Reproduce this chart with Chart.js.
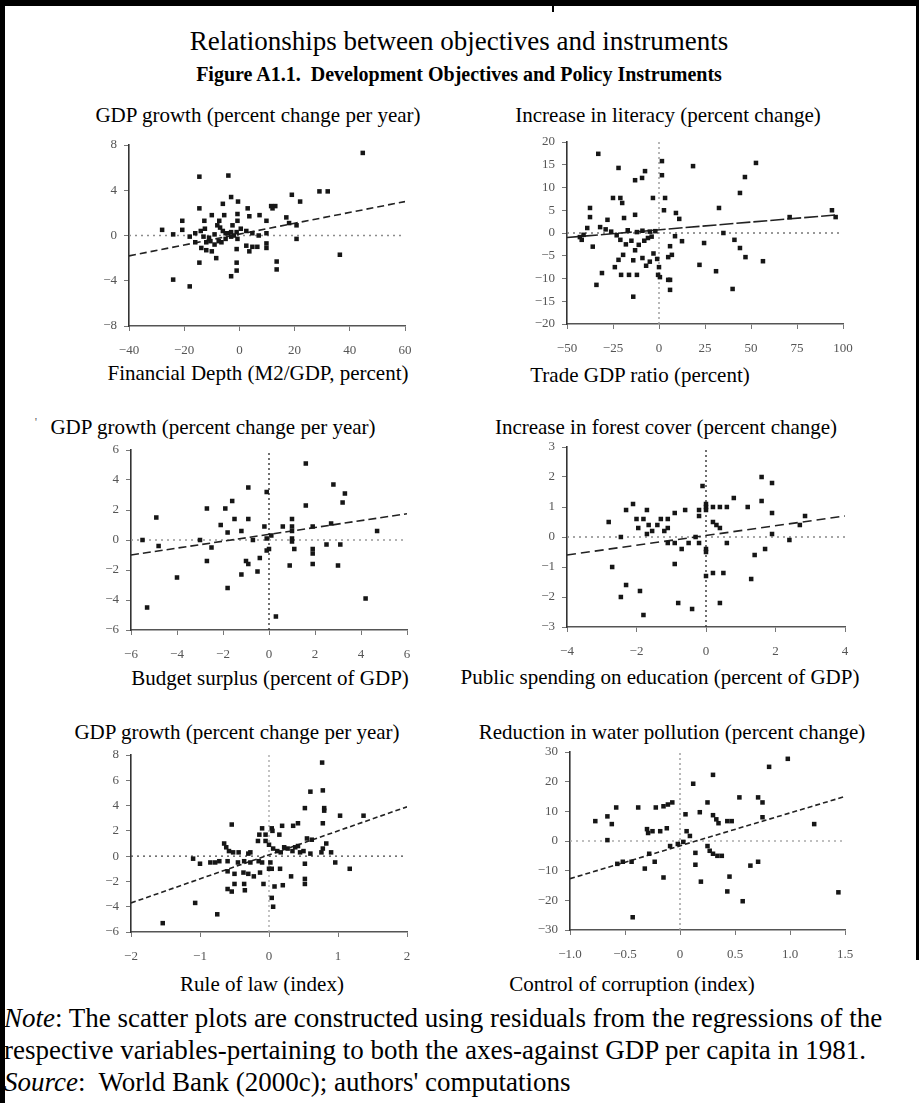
<!DOCTYPE html>
<html>
<head>
<meta charset="utf-8">
<script src="https://cdn.jsdelivr.net/npm/chart.js@4.4.0/dist/chart.umd.min.js"></script>
<style>
  body { margin: 0; background: #fff; width: 919px; height: 1103px; position: relative; overflow: hidden;
         font-family: "Liberation Serif", "Times New Roman", serif; color: #000; }
  .bar { position: absolute; background: #000; }
  .t { position: absolute; white-space: nowrap; transform: translate(-50%, -50%); line-height: 1; }
  .note { position: absolute; left: 4px; white-space: nowrap; font-size: 27px; line-height: 1; transform: translateY(-50%); }
  canvas { position: absolute; }
</style>
</head>
<body>
<div class="bar" style="left:0;top:0;width:919px;height:6px"></div>
<div class="bar" style="left:0;top:0;width:5px;height:1103px"></div>
<div class="bar" style="left:916px;top:0;width:3px;height:960px"></div>
<div class="bar" style="left:552px;top:0;width:2px;height:12px"></div>

<div class="t" style="left:459px;top:41px;font-size:27px">Relationships between objectives and instruments</div>
<div class="t" style="left:459px;top:74px;font-size:20px;font-weight:bold">Figure A1.1.&nbsp; Development Objectives and Policy Instruments</div>

<div class="t" style="left:258px;top:115px;font-size:21px">GDP growth (percent change per year)</div>
<div class="t" style="left:668px;top:115px;font-size:21px">Increase in literacy (percent change)</div>
<div class="t" style="left:258px;top:373px;font-size:21px">Financial Depth (M2/GDP, percent)</div>
<div class="t" style="left:640px;top:375px;font-size:21px">Trade GDP ratio (percent)</div>

<div class="t" style="left:36px;top:421px;font-size:13px;color:#666">'</div>
<div class="t" style="left:213px;top:427px;font-size:21px">GDP growth (percent change per year)</div>
<div class="t" style="left:666px;top:427px;font-size:21px">Increase in forest cover (percent change)</div>
<div class="t" style="left:270px;top:678px;font-size:21px">Budget surplus (percent of GDP)</div>
<div class="t" style="left:660px;top:677px;font-size:21px">Public spending on education (percent of GDP)</div>

<div class="t" style="left:237px;top:732px;font-size:21px">GDP growth (percent change per year)</div>
<div class="t" style="left:672px;top:732px;font-size:21px">Reduction in water pollution (percent change)</div>
<div class="t" style="left:262px;top:984px;font-size:21px">Rule of law (index)</div>
<div class="t" style="left:632px;top:984px;font-size:21px">Control of corruption (index)</div>

<div class="note" style="top:1018px"><i>Note</i>: The scatter plots are constructed using residuals from the regressions of the</div>
<div class="note" style="top:1050px">respective variables-pertaining to both the axes-against GDP per capita in 1981.</div>
<div class="note" style="top:1082px"><i>Source</i>:&nbsp; World Bank (2000c); authors' computations</div>

<script>
// Panel 1: financial depth vs GDP growth
const depthX = [-14.5,-4,44.7,19,22,29,32,11.5,13,12,
  -3,-0.5,-6,-14.5,3,-5.5,-0.7,3.6,7.3,9.8,
  -12.7,-10,-7.3,-0.7,-20.7,17,18,20.7,-28,-24,
  -20.7,-18,-16,-14,-12.5,-11,-10.5,-8,-7,-6,
  -5,-4,-3,-2,-1,-9,-7.5,-5,-3,-0.7,
  2.5,4.7,7,9.8,20.7,-13.8,-12,-10,-8.4,-14.5,
  -1,2.5,3.6,4.7,6.5,9.8,9.8,-1,-1,-3,
  13.5,13.5,36.4,-24,-18,-16,-12,-9,-6.5,-2.5,
  0.5,-13];
const depthGrowth = [5.2,5.3,7.3,3.6,3.0,3.9,3.9,2.6,2.6,2.4,
  3.4,3.0,2.8,2.4,2.4,1.8,1.9,1.7,1.8,1.3,
  1.3,1.8,1.3,1.3,1.3,1.6,1.1,0.9,0.5,0.1,
  0.5,-0.1,0.2,0.4,0.6,-0.2,-0.5,0.9,0.7,0.4,
  0.2,0.2,0.3,0,0.3,-0.8,-0.5,-0.3,-0.1,-0.3,
  0.4,0.2,0,0.2,-0.3,-1.1,-1.3,-1.4,-2,-2.4,
  -1.2,-0.9,-1.4,-1.0,-1,-1.1,-0.7,-2.4,-3.1,-3.6,
  -2.3,-3.0,-1.7,-3.9,-4.5,-0.6,-0.6,0.1,-0.6,0.9,
  0.6,-0.1];
const depthFitX = [-40, 60];
const depthFitY = [-1.8, 3.0];
const depthTicks = [-40, -20, 0, 20, 40, 60];
const depthGrowthTicks = [-8, -4, 0, 4, 8];

// Panel 2: trade ratio vs literacy
const tradeX = [-33,-22,-13,-9.2,-7.6,1.6,1.6,18.5,52.7,46.7,
  44,-37.5,-25,-21,-20,-3.3,3.3,-13,-19,2.7,
  9.2,11,32.6,71,94,96,-37.5,-39,-41,-43,
  -28,-32,-42,-36,-34,-31,-24,-20.6,-16.3,-12,
  -22,-19.5,-21,-18,-15,-13,-11,-8,-6,-4,
  -14,-9,-7,-5,-3,-1,0,-14,-0.5,0.5,
  5,6,6,5,6,7,8.7,12.5,24.5,22,
  31,35,40,41,44,47,56.5,-26,-23,-17,
  -12,-9,-5,-2,-29];
const tradeLiteracy = [17.4,14.3,11.6,12.1,13.6,15.8,12.7,14.7,15.4,12.3,
  8.8,5.5,7.7,7.7,6.6,7.7,7.7,4,3.3,5,
  4.4,3.1,5.5,3.5,5,3.5,3.5,1.1,-0.4,-0.9,
  2.9,1.3,-1.5,-3,-11.4,-8.8,-7.5,-9.2,-9.2,-9.2,
  -5.9,-4.8,-1.5,-2.5,-1.7,-3.8,-2.6,-1.7,-1.1,-0.8,
  -6,-5.5,-7.2,-6.3,-4.5,-5.7,-7.5,-14,-9.2,-9.7,
  -10.3,-12.5,-10.3,-5.3,-2.9,-4.8,-0.7,-1.8,-2.2,-7,
  -8.4,0,-12.3,-1.5,-3.3,-5.3,-6.2,0.3,-0.5,0.6,
  0.2,0.5,0.3,0.4,0.8];
const tradeFitX = [-50, 97];
const tradeFitY = [-1, 4];
const tradeTicks = [-50, -25, 0, 25, 50, 75, 100];
const literacyTicks = [-20, -15, -10, -5, 0, 5, 10, 15, 20];

// Panel 3: budget surplus vs GDP growth
const budgetX = [1.6,2.8,-0.9,-0.1,3.3,3.2,-1.6,-2.7,-1.9,1.6,
  -4.9,-1.5,-0.9,1.0,-2.1,-1.8,-1.2,-0.2,0.6,1.0,
  1.0,1.9,2.7,4.7,-5.5,-3,-0.7,-0.1,1.0,1.0,
  -4.8,-2.5,0,1.1,1.9,1.9,2.5,3.1,-2.7,-1,
  -0.4,0.9,1.9,3.0,-1.2,-0.5,-4.0,-1.8,4.2,-5.3,
  0.3,-0.1,0.1,-0.9];
const budgetGrowth = [5.1,3.7,3.5,3.2,3.1,2.5,2.6,2.1,2.1,2.3,
  1.5,1.4,1.4,1.4,1.0,0.5,0.6,0.9,0.9,0.9,
  0.6,0.9,1.1,0.6,0,0,0,0.1,0.1,-0.1,
  -0.4,-0.5,-0.6,-0.6,-0.6,-0.9,-0.3,-0.3,-1.4,-1.4,
  -1.2,-1.7,-1.6,-1.7,-2.3,-2.1,-2.5,-3.2,-3.9,-4.5,
  -5.1,-0.7,0.3,-1.6];
const budgetFitX = [-6, 6];
const budgetFitY = [-1.0, 1.75];
const budgetTicks = [-6, -4, -2, 0, 2, 4, 6];
const budgetGrowthTicks = [-6, -4, -2, 0, 2, 4, 6];

// Panel 4: education spending vs forest cover
const eduX = [-0.1,1.6,1.9,1.9,1.6,1.2,0.8,0.6,0.4,0.2,
  0,0,-2.1,-2.3,-1.7,-1.8,-2.0,-1.95,-1.65,-1.4,
  -1.3,-1.1,-0.9,-0.6,-0.2,-0.2,-2.8,-1.7,-1.55,-2.45,
  -1.1,-0.9,-0.7,-0.5,-0.3,-0.2,0,0.2,0.3,0.4,
  0.6,1.9,2.4,1.7,2.85,2.7,-2.7,-2.3,-2.45,-1.9,
  -1.8,-0.9,-0.8,-0.4,0,0.2,0.5,0.4,1.3,1.4,
  0,0,-1.2,-1.1];
const eduForest = [1.7,2.0,1.8,0.8,1.2,1.0,1.3,1.0,1.0,1.0,
  1.0,1.1,1.1,0.9,0.9,0.6,0.6,0.3,0.4,0.4,
  0.6,0.6,0.8,0.9,0.9,0.7,0.5,0.1,0.2,0,
  -0.2,-0.2,-0.4,-0.2,0,-0.2,-0.4,0.5,0.4,0.3,
  -0.2,0.1,-0.1,-0.4,0.7,0.4,-1.0,-1.6,-2.0,-1.8,
  -2.6,-0.9,-2.2,-2.4,-1.3,-1.2,-1.2,-2.2,-1.4,-0.6,
  -0.5,0.9,0.2,0.3];
const eduFitX = [-4, 4];
const eduFitY = [-0.6, 0.7];
const eduTicks = [-4, -2, 0, 2, 4];
const forestTicks = [-3, -2, -1, 0, 1, 2, 3];

// Panel 5: rule of law vs GDP growth
const lawX = [0.77,0.6,0.78,0.52,0.8,0.8,1.03,1.37,0.78,-0.54,
  -0.1,0.04,0.19,0.35,0.42,-0.14,-0.05,-0.16,-0.05,0.05,
  0.15,0.55,0.62,-0.65,-0.62,-0.58,-0.52,-0.44,-0.3,-0.27,
  0,0.06,0.12,0.17,0.22,0.27,0.34,0.38,0.42,0.45,
  0.5,0.6,0.78,0.83,0.76,0.9,-1.1,-1.0,-0.85,-0.78,
  -0.72,-0.6,-0.45,-0.36,-0.27,-0.15,-0.1,0.02,0.52,0.96,
  1.17,-0.6,-0.5,-0.37,-0.3,-0.13,0,0.04,0.16,-0.5,
  -0.36,-0.22,-0.08,0.08,0.2,0.32,0.52,0.52,-0.6,-0.54,
  -0.35,0.04,0.06,-1.07,-0.75,-1.54];
const lawGrowth = [7.4,5.1,5.2,3.8,3.8,3.6,3.2,3.2,2.6,2.5,
  2.2,2.2,2.4,2.4,2.6,1.7,1.7,1.2,1.2,2.0,
  1.7,1.4,1.3,1.0,0.7,0.4,0.3,0.3,0.2,0.3,
  0.9,0.6,0.4,0.3,0.7,0.6,0.4,0.7,0.8,0.3,
  0.4,0.2,0.6,1.0,0.3,0.3,-0.2,-0.6,-0.5,-0.5,
  -0.4,-0.4,-0.5,-0.4,-0.5,-0.4,-0.5,-0.5,-0.6,-0.5,
  -1.0,-1.2,-1.4,-1.3,-1.4,-1.3,-1.0,-1.0,-1.0,-2.2,
  -2.2,-1.6,-2.2,-2.4,-2.3,-1.6,-1.8,-2.2,-2.6,-2.8,
  -2.7,-3.3,-4.0,-3.7,-4.6,-5.3];
const lawFitX = [-2, 2];
const lawFitY = [-3.7, 3.9];
const lawTicks = [-2, -1, 0, 1, 2];
const lawGrowthTicks = [-6, -4, -2, 0, 2, 4, 6, 8];

// Panel 6: control of corruption vs water pollution
const corruptX = [0.98,0.81,0.3,0.12,0.54,0.71,0.75,0.25,0.18,0.3,
  0.33,0.05,0.35,0.43,0.47,0.75,1.22,-0.58,-0.38,-0.22,
  -0.15,-0.07,-0.11,-0.77,-0.66,-0.62,-0.3,-0.29,-0.25,-0.18,
  -0.12,0.06,0.09,-0.66,0.25,0.27,0.3,0.34,0.38,0.14,
  -0.57,-0.52,-0.44,-0.28,-0.23,-0.32,0.14,-0.15,0.19,0.45,
  0.64,0.71,0.43,0.57,1.44,-0.43,-0.09,-0.02,0.03];
const corruptWater = [27.7,25,22.3,19.3,14.7,14.7,13,13,9.7,8.7,
  7.3,9,6,6.7,6.7,8,5.7,11.3,11.3,11.3,
  11.7,13,12.3,6.7,8.3,5.7,4,2.7,3.3,3.3,
  4.3,3.3,1.7,0.3,-1.7,-3.3,-4.3,-5,-5,-4,
  -7.7,-7,-7,-4.3,-7,-9.3,-8,-12.3,-13.7,-12,
  -8.3,-7,-17,-20.3,-17.3,-25.7,-1.7,-1,-0.3];
const corruptFitX = [-1, 1.5];
const corruptFitY = [-12.7, 15];
const corruptTicks = [-1, -0.5, 0, 0.5, 1, 1.5];
const waterTicks = [-30, -20, -10, 0, 10, 20, 30];

const FONT = '"Liberation Serif", "Times New Roman", serif';

// minus sign like the printed figure
const fmt = (v, dec) => {
  const s = dec && v !== 0 ? Math.abs(v).toFixed(dec) : String(Math.abs(v));
  return v < 0 ? "\u2212" + s : s;
};

// plot boxes are [left, top, right, bottom] in page pixels
const panels = [
  { box: [129, 145, 405, 326], xs: depthX, ys: depthGrowth, fitX: depthFitX, fitY: depthFitY,
    xTicks: depthTicks, yTicks: depthGrowthTicks, hColor: "#8c8c8c", vColor: null, dash: [7, 4] },
  { box: [567, 142, 843, 324], xs: tradeX, ys: tradeLiteracy, fitX: tradeFitX, fitY: tradeFitY,
    xTicks: tradeTicks, yTicks: literacyTicks, hColor: "#777", vColor: "#999", dash: [14, 3] },
  { box: [131, 450, 407, 630], xs: budgetX, ys: budgetGrowth, fitX: budgetFitX, fitY: budgetFitY,
    xTicks: budgetTicks, yTicks: budgetGrowthTicks, hColor: "#999", vColor: "#333", dash: [8, 4] },
  { box: [567, 447, 845, 627], xs: eduX, ys: eduForest, fitX: eduFitX, fitY: eduFitY,
    xTicks: eduTicks, yTicks: forestTicks, hColor: "#888", vColor: "#333", dash: [9, 5] },
  { box: [131, 755, 407, 932], xs: lawX, ys: lawGrowth, fitX: lawFitX, fitY: lawFitY,
    xTicks: lawTicks, yTicks: lawGrowthTicks, hColor: "#444", vColor: "#aaa", dash: [5, 3] },
  { box: [570, 752, 845, 930], xs: corruptX, ys: corruptWater, fitX: corruptFitX, fitY: corruptFitY,
    xTicks: corruptTicks, yTicks: waterTicks, hColor: "#aaa", vColor: "#999", dash: [5, 3], xDec: 1 },
];

const Y_W = 42, X_H = 42, PAD_T = 12, PAD_R = 22;

const axisOptions = (ticks, dec, isX) => ({
  type: "linear",
  min: ticks[0],
  max: ticks[ticks.length - 1],
  afterBuildTicks: (s) => { s.ticks = ticks.map((v) => ({ value: v })); },
  afterFit: (s) => {
    if (isX) { s.height = X_H; s.paddingLeft = 0; s.paddingRight = 0; }
    else { s.width = Y_W; s.paddingTop = 0; s.paddingBottom = 0; }
  },
  ticks: {
    callback: (v) => fmt(v, dec),
    font: { family: FONT, size: 13 },
    color: "#555",
    padding: isX ? 12 : 7,
    maxRotation: 0,
    autoSkip: false,
  },
  grid: { display: true, drawOnChartArea: false, drawTicks: true, tickLength: 5, color: "#777", lineWidth: 1 },
  border: { display: true, color: isX ? "#555" : "#333", width: 1.6 },
});

panels.forEach((p) => {
  const [l, t, r, b] = p.box;
  const canvas = document.createElement("canvas");
  const w = r - l + Y_W + PAD_R;
  const h = b - t + PAD_T + X_H;
  canvas.width = w;
  canvas.height = h;
  canvas.style.left = l - Y_W + "px";
  canvas.style.top = t - PAD_T + "px";
  canvas.style.width = w + "px";
  canvas.style.height = h + "px";
  document.body.appendChild(canvas);

  const xMin = p.xTicks[0], xMax = p.xTicks[p.xTicks.length - 1];
  const yMin = p.yTicks[0], yMax = p.yTicks[p.yTicks.length - 1];

  const datasets = [
    {
      data: p.xs.map((x, i) => ({ x, y: p.ys[i] })),
      pointStyle: "rect",
      pointRadius: 3.2,
      backgroundColor: "#161616",
      borderWidth: 0,
    },
    {
      data: [{ x: p.fitX[0], y: p.fitY[0] }, { x: p.fitX[1], y: p.fitY[1] }],
      showLine: true,
      borderColor: "#222",
      borderWidth: 1.6,
      borderDash: p.dash,
      pointRadius: 0,
    },
    {
      data: [{ x: xMin, y: 0 }, { x: xMax, y: 0 }],
      showLine: true,
      borderColor: p.hColor,
      borderWidth: 1.4,
      borderDash: [2, 4],
      pointRadius: 0,
    },
  ];
  if (p.vColor) {
    datasets.push({
      data: [{ x: 0, y: yMin }, { x: 0, y: yMax }],
      showLine: true,
      borderColor: p.vColor,
      borderWidth: 1.4,
      borderDash: [2, 3],
      pointRadius: 0,
    });
  }

  new Chart(canvas, {
    type: "scatter",
    data: { datasets },
    options: {
      responsive: false,
      animation: false,
      devicePixelRatio: 1,
      layout: { padding: { left: 0, top: PAD_T, right: PAD_R, bottom: 0 }, autoPadding: false },
      plugins: { legend: { display: false }, tooltip: { enabled: false } },
      scales: {
        x: axisOptions(p.xTicks, p.xDec, true),
        y: axisOptions(p.yTicks, 0, false),
      },
    },
  });
});
</script>
</body>
</html>
